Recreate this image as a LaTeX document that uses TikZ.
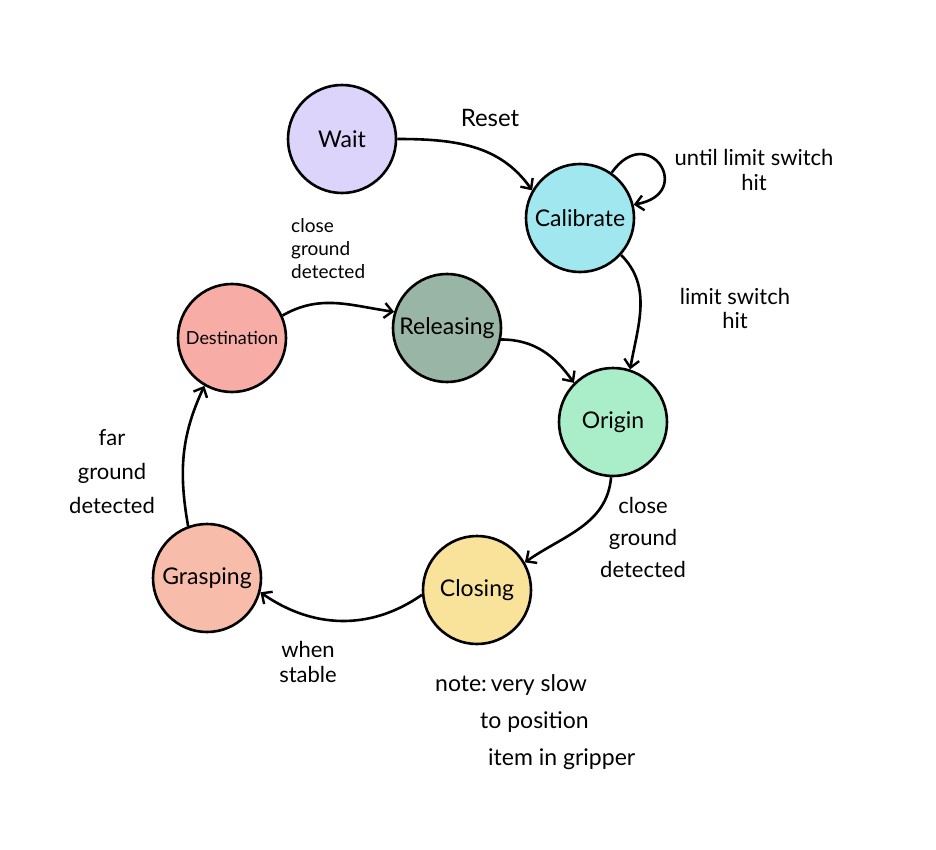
\documentclass[tikz,border=0pt]{standalone}
\usepackage{fontspec}
\setmainfont{Lato}
\usetikzlibrary{arrows.meta}
\definecolor{cwait}{HTML}{DCD4FA}
\definecolor{ccal}{HTML}{A0E7F0}
\definecolor{cdest}{HTML}{F8ACA6}
\definecolor{crel}{HTML}{99B5A5}
\definecolor{corig}{HTML}{A9EEC9}
\definecolor{cgrasp}{HTML}{F8BDAA}
\definecolor{cclos}{HTML}{F9E39B}
\tikzset{
  state/.style={circle, draw=black, line width=2.6pt, minimum size=108pt, inner sep=0pt, font=\fontsize{23}{23}\selectfont},
  conn/.style={line width=2.6pt, -{Straight Barb[length=8pt,width=15pt,line width=2.4pt]}},
  lbl/.style={font=\fontsize{22}{24}\selectfont, align=center, inner sep=0pt},
}
\begin{document}
\begin{tikzpicture}[x=1pt,y=-1pt]
\useasboundingbox (0,0) rectangle (936,850);
\fill[white] (0,0) rectangle (936,850);
\node[state, fill=cwait] (wait) at (342,139) {Wait};
\node[state, fill=ccal] (cal) at (580,218) {Calibrate};
\node[state, fill=cdest, font=\fontsize{18}{18}\selectfont] (dest) at (232,338) {Destination};
\node[state, fill=crel] (rel) at (447,328) {Releasing};
\node[state, fill=corig] (orig) at (613,422) {Origin};
\node[state, fill=cgrasp] (grasp) at (207,578) {Grasping};
\node[state, fill=cclos] (clos) at (477,590) {Closing};

\draw[conn] (wait.0) to[out=0,in=125] (cal.150);
\draw[conn] (cal.55) to[out=55,in=10,looseness=4.2] (cal.14);
\draw[conn] (cal.-42) to[out=-45,in=80] (orig.72);
\draw[conn] (rel.-12) to[out=0,in=125] (orig.135);
\draw[conn] (orig.-92) to[out=-95,in=35] (clos.30);
\draw[conn] (clos.185) to[out=215,in=-35] (grasp.-15);
\draw[conn] (grasp.110) to[out=100,in=-115] (dest.-120);
\draw[conn] (dest.24) to[out=30,in=172] (rel.163);

\node[lbl, font=\fontsize{24}{24}\selectfont] (lreset) at (490,118) {Reset};
\node[lbl, font=\fontsize{22}{25}\selectfont] (lloop) at (754,170) {until limit switch\\hit};
\node[lbl, font=\fontsize{22}{24}\selectfont] (llim) at (735,308) {limit switch\\hit};
\node[lbl, align=left, font=\fontsize{19}{23}\selectfont, anchor=west] (ldr) at (291,249) {close\\ground\\detected};
\node[lbl, font=\fontsize{22}{34}\selectfont] (lfar) at (112,472) {far\\ground\\detected};
\node[lbl, font=\fontsize{22}{32}\selectfont] (loc) at (643,537) {close\\ground\\detected};
\node[lbl, font=\fontsize{22}{25}\selectfont] (lstab) at (308,662) {when\\stable};
\node[lbl, align=left, font=\fontsize{23}{37}\selectfont, anchor=north west] (note) at (435,674) {note:\,very slow\\\hspace*{45pt}to position\\\hspace*{53pt}item in gripper};
\end{tikzpicture}
\end{document}
